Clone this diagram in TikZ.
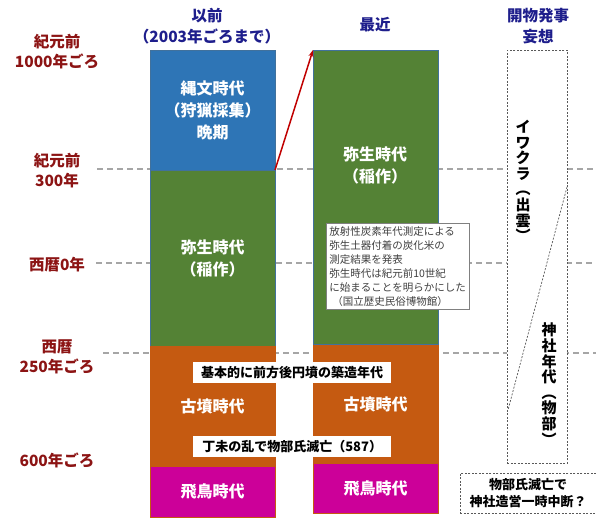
\documentclass[tikz,border=0pt]{standalone}
\usepackage{fontspec}
\setmainfont{Noto Sans CJK JP}
\usetikzlibrary{arrows.meta}
\definecolor{cblue}{HTML}{2E75B6}
\definecolor{cgreen}{HTML}{548235}
\definecolor{corange}{HTML}{C55A11}
\definecolor{cmag}{HTML}{CC0099}
\definecolor{cedge}{HTML}{41719C}
\definecolor{hdr}{HTML}{1E1E8C}
\definecolor{era}{HTML}{8C1414}
\definecolor{arrowred}{HTML}{C00000}
\definecolor{gridgray}{HTML}{A6A6A6}
\definecolor{notegray}{HTML}{404040}
\definecolor{dotc}{HTML}{595959}
\begin{document}
\begin{tikzpicture}[x=1pt,y=-1pt,
 period/.style={draw=cedge, line width=0.6pt, inner sep=0pt, outer sep=0pt, anchor=north west,
   minimum width=125pt, text=white, font=\fontsize{16}{22}\selectfont\bfseries, align=center},
 periodtext/.style={text=white, font=\fontsize{16}{22}\selectfont\bfseries, align=center},
 eralabel/.style={text=era, font=\fontsize{15.5}{20}\selectfont\bfseries, align=center},
 header/.style={text=hdr, font=\fontsize{15.5}{21}\selectfont\bfseries, align=center},
 gridline/.style={gridgray, line width=1.6pt, dash pattern=on 6pt off 4pt},
 whitetag/.style={fill=white, inner sep=0pt, minimum width=198pt, minimum height=21pt,
   font=\fontsize{13}{15}\selectfont\bfseries, anchor=north west},
 dotbox/.style={draw=dotc, dash pattern=on 2pt off 1.5pt, line width=0.7pt, inner sep=0pt, anchor=north west},
 vtext/.style={font=\fontsize{15}{15.6}\selectfont\bfseries, align=center, inner sep=0pt},
]
\useasboundingbox (0,0) rectangle (596,518);

% grid lines
\coordinate (g1a) at (97,169);  \coordinate (g1b) at (596,169);
\coordinate (g2a) at (96,263);  \coordinate (g2b) at (596,263);
\coordinate (g3a) at (103,353); \coordinate (g3b) at (596,353);
\draw[gridline] (g1a) -- (g1b);
\draw[gridline] (g2a) -- (g2b);
\draw[gridline] (g3a) -- (g3b);

% headers
\node[header] (h1) at (207,26) {以前\\（2003年ごろまで）};
\node[header] (h2) at (375,25) {最近};
\node[header] (h3) at (538,26) {開物発事\\妄想};

% era labels
\node[eralabel] (e1) at (57,52) {紀元前\\1000年ごろ};
\node[eralabel] (e2) at (57,171) {紀元前\\300年};
\node[eralabel] (e3) at (57,265) {西暦0年};
\node[eralabel] (e4) at (57,357) {西暦\\250年ごろ};
\node[eralabel] (e5) at (57,460) {600年ごろ};

% left column
\node[period, fill=cblue, minimum height=120pt] (jomon) at (150,50) {縄文時代\\（狩猟採集）\\晩期};
\node[period, fill=cgreen, minimum height=176pt] (yayoiL) at (150,170) {弥生時代\\（稲作）};
\node[period, fill=corange, draw=corange, minimum height=120pt] (kofunL) at (150,346) {古墳時代};
\node[period, fill=cmag, draw=corange, minimum height=51pt] (asukaL) at (150,466) {飛鳥時代};

% middle column
\node[period, fill=cgreen, minimum height=294pt] (yayoiR) at (313,50) {};
\node[periodtext] (yayoiRt) at (375,165) {弥生時代\\（稲作）};
\node[period, fill=corange, draw=corange, minimum height=119pt] (kofunR) at (313,345) {古墳時代};
\node[period, fill=cmag, draw=corange, minimum height=50pt] (asukaR) at (313,463) {飛鳥時代};

% arrow
\draw[arrowred, line width=1.5pt, -{Stealth[length=7pt,width=5pt]}] (jomon.south east) -- (yayoiR.north west);

% white tags
\node[whitetag] (tag1) at (193,362) {基本的に前方後円墳の築造年代};
\node[whitetag] (tag2) at (193,436) {丁未の乱で物部氏滅亡（587）};

% note
\node[draw=gray, fill=white, line width=0.6pt, anchor=north west, text width=137pt, inner xsep=3pt, inner ysep=3pt,
  align=left, text=notegray, font=\fontsize{10.5}{14}\selectfont] (note) at (326,223)
  {放射性炭素年代測定による\\弥生土器付着の炭化米の\\測定結果を発表\\弥生時代は紀元前10世紀\\に始まることを明らかにした\\\hspace*{3pt}（国立歴史民俗博物館）};

% right column
\node[dotbox, fill=white, minimum width=60pt, minimum height=413pt] (kaibutsu) at (507,50) {};
\coordinate (diagA) at (567,187);
\coordinate (diagB) at (508,410);
\draw[draw=dotc, dash pattern=on 2pt off 1.5pt, line width=0.7pt] (diagA) -- (diagB);
\node[vtext] (iwakura) at (523,181) {イ\\ワ\\ク\\ラ\\︵\\出\\雲\\︶};
\node[vtext] (jinja) at (549,384) {神\\社\\年\\代\\︵\\物\\部\\︶};

% bottom note
\node[dotbox, minimum width=135.5pt, minimum height=40pt, align=center,
  font=\fontsize{13}{17}\selectfont\bfseries] (chudan) at (460,473) {物部氏滅亡で\\神社造営一時中断？};
\end{tikzpicture}
\end{document}
